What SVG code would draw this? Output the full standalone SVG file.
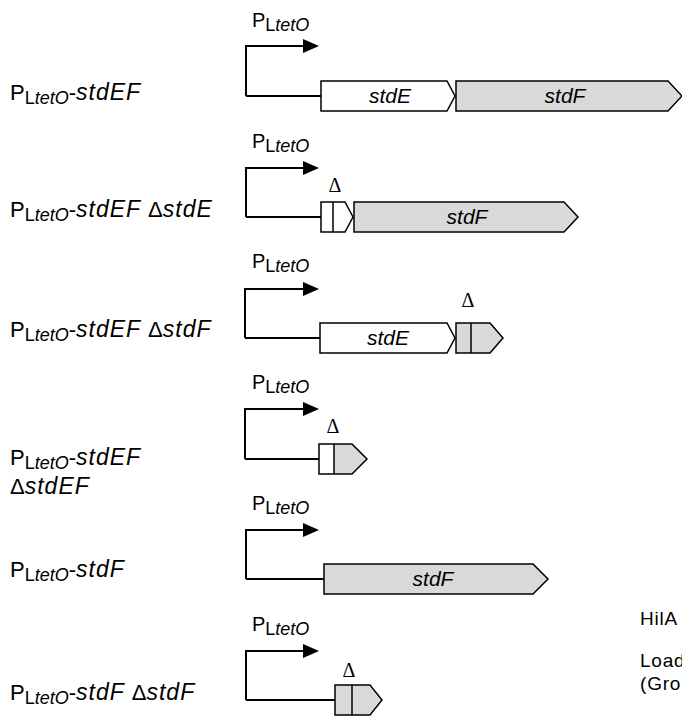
<svg xmlns="http://www.w3.org/2000/svg" width="682" height="718" viewBox="0 0 682 718">
  <style>
    .lbl { font-family: "Liberation Sans", Arial, sans-serif; font-size: 22px; fill: #000; }
    .sub { font-size: 18px; letter-spacing: 0; }
    .it { font-style: italic; }
    .wide { font-size: 23px; letter-spacing: 1px; }
    .plbl { font-family: "Liberation Sans", Arial, sans-serif; font-size: 20px; fill: #000; }
    .gene { stroke: #000; stroke-width: 1.5; stroke-linejoin: miter; }
    .white { fill: #fff; }
    .grey { fill: #d9d9d9; }
    .gtxt { font-family: "Liberation Sans", Arial, sans-serif; font-size: 21px; font-style: italic; text-anchor: middle; fill: #000; }
    .delta { font-family: "Liberation Serif", "Times New Roman", serif; font-size: 20px; text-anchor: middle; fill: #000; }
    .wire { fill: none; stroke: #000; stroke-width: 2; }
    .side { font-family: "Liberation Sans", Arial, sans-serif; font-size: 19px; letter-spacing: 0.8px; fill: #000; }
  </style>
  <defs>
    <marker id="prom" markerUnits="userSpaceOnUse" markerWidth="16" markerHeight="14" refX="0" refY="7" orient="auto">
      <polygon points="0,0 16,7 0,14" fill="#000"/>
    </marker>
  </defs>
  <rect width="682" height="718" fill="#fff"/>

  <!-- promoter arrows and leader lines -->
  <g id="connectors">
    <path class="wire" d="M246,96 V46 H303" marker-end="url(#prom)"/>
    <path class="wire" d="M246,96 H321"/>
    <path class="wire" d="M246,217 V168 H303" marker-end="url(#prom)"/>
    <path class="wire" d="M246,217 H321"/>
    <path class="wire" d="M245,338 V289 H303" marker-end="url(#prom)"/>
    <path class="wire" d="M245,338 H320"/>
    <path class="wire" d="M245,459 V409 H303" marker-end="url(#prom)"/>
    <path class="wire" d="M245,459 H319"/>
    <path class="wire" d="M246,579 V530 H303" marker-end="url(#prom)"/>
    <path class="wire" d="M246,579 H324"/>
    <path class="wire" d="M246,700 V651 H303" marker-end="url(#prom)"/>
    <path class="wire" d="M246,700 H335"/>
  </g>

  <!-- construct 1: PLtetO-stdEF -->
  <g id="row1">
    <text class="lbl" x="10" y="100">P<tspan class="sub" dy="4">L</tspan><tspan class="sub it">tetO</tspan><tspan dy="-4">-</tspan><tspan class="it wide">stdEF</tspan></text>
    <text class="plbl" x="252" y="27">P<tspan class="sub" dy="4">L</tspan><tspan class="sub it">tetO</tspan></text>
    <polygon class="gene white" points="321,81 447,81 455,96 447,111 321,111"/>
    <polygon class="gene grey" points="456,81 668,81 682,96 668,111 456,111"/>
    <text class="gtxt" x="390" y="103">stdE</text>
    <text class="gtxt" x="565" y="103">stdF</text>
  </g>

  <!-- construct 2: ΔstdE -->
  <g id="row2">
    <text class="lbl" x="10" y="217">P<tspan class="sub" dy="4">L</tspan><tspan class="sub it">tetO</tspan><tspan dy="-4">-</tspan><tspan class="it wide">stdEF </tspan>Δ<tspan class="it wide">stdE</tspan></text>
    <text class="plbl" x="252" y="148">P<tspan class="sub" dy="4">L</tspan><tspan class="sub it">tetO</tspan></text>
    <polygon class="gene white" points="321,202 345,202 353,217 345,232 321,232"/>
    <line class="gene" x1="333" y1="202" x2="333" y2="232"/>
    <polygon class="gene grey" points="354,202 564,202 578,217 564,232 354,232"/>
    <text class="delta" x="335" y="192">Δ</text>
    <text class="gtxt" x="467" y="224">stdF</text>
  </g>

  <!-- construct 3: ΔstdF -->
  <g id="row3">
    <text class="lbl" x="10" y="337">P<tspan class="sub" dy="4">L</tspan><tspan class="sub it">tetO</tspan><tspan dy="-4">-</tspan><tspan class="it wide">stdEF </tspan>Δ<tspan class="it wide">stdF</tspan></text>
    <text class="plbl" x="252" y="268">P<tspan class="sub" dy="4">L</tspan><tspan class="sub it">tetO</tspan></text>
    <polygon class="gene white" points="320,323 447,323 455,338 447,353 320,353"/>
    <polygon class="gene grey" points="456,323 490,323 503,338 490,353 456,353"/>
    <line class="gene" x1="471" y1="323" x2="471" y2="353"/>
    <text class="gtxt" x="388" y="345">stdE</text>
    <text class="delta" x="468" y="307">Δ</text>
  </g>

  <!-- construct 4: ΔstdEF -->
  <g id="row4">
    <text class="lbl" x="10" y="465">P<tspan class="sub" dy="4">L</tspan><tspan class="sub it">tetO</tspan><tspan dy="-4">-</tspan><tspan class="it wide">stdEF</tspan></text>
    <text class="lbl" x="10" y="494">Δ<tspan class="it wide">stdEF</tspan></text>
    <text class="plbl" x="252" y="389">P<tspan class="sub" dy="4">L</tspan><tspan class="sub it">tetO</tspan></text>
    <polygon class="grey" points="334,444 352,444 367,459 352,474 334,474"/>
    <rect class="white" x="319" y="444" width="15" height="30"/>
    <polygon class="gene" fill="none" points="319,444 352,444 367,459 352,474 319,474"/>
    <line class="gene" x1="334" y1="444" x2="334" y2="474"/>
    <text class="delta" x="333" y="433">Δ</text>
  </g>

  <!-- construct 5: PLtetO-stdF -->
  <g id="row5">
    <text class="lbl" x="10" y="577">P<tspan class="sub" dy="4">L</tspan><tspan class="sub it">tetO</tspan><tspan dy="-4">-</tspan><tspan class="it wide">stdF</tspan></text>
    <text class="plbl" x="252" y="510">P<tspan class="sub" dy="4">L</tspan><tspan class="sub it">tetO</tspan></text>
    <polygon class="gene grey" points="324,564 533,564 548,579 533,594 324,594"/>
    <text class="gtxt" x="433" y="586">stdF</text>
  </g>

  <!-- construct 6: PLtetO-stdF ΔstdF -->
  <g id="row6">
    <text class="lbl" x="10" y="700">P<tspan class="sub" dy="4">L</tspan><tspan class="sub it">tetO</tspan><tspan dy="-4">-</tspan><tspan class="it wide">stdF </tspan>Δ<tspan class="it wide">stdF</tspan></text>
    <text class="plbl" x="252" y="631">P<tspan class="sub" dy="4">L</tspan><tspan class="sub it">tetO</tspan></text>
    <polygon class="gene grey" points="335,685 370,685 382,700 370,715 335,715"/>
    <line class="gene" x1="352" y1="685" x2="352" y2="715"/>
    <text class="delta" x="349" y="677">Δ</text>
  </g>

  <!-- text at the right edge -->
  <g id="side-notes">
    <text class="side" x="640" y="625">HilA</text>
    <text class="side" x="640" y="667">Load</text>
    <text class="side" x="640" y="690">(Gro</text>
  </g>
</svg>
